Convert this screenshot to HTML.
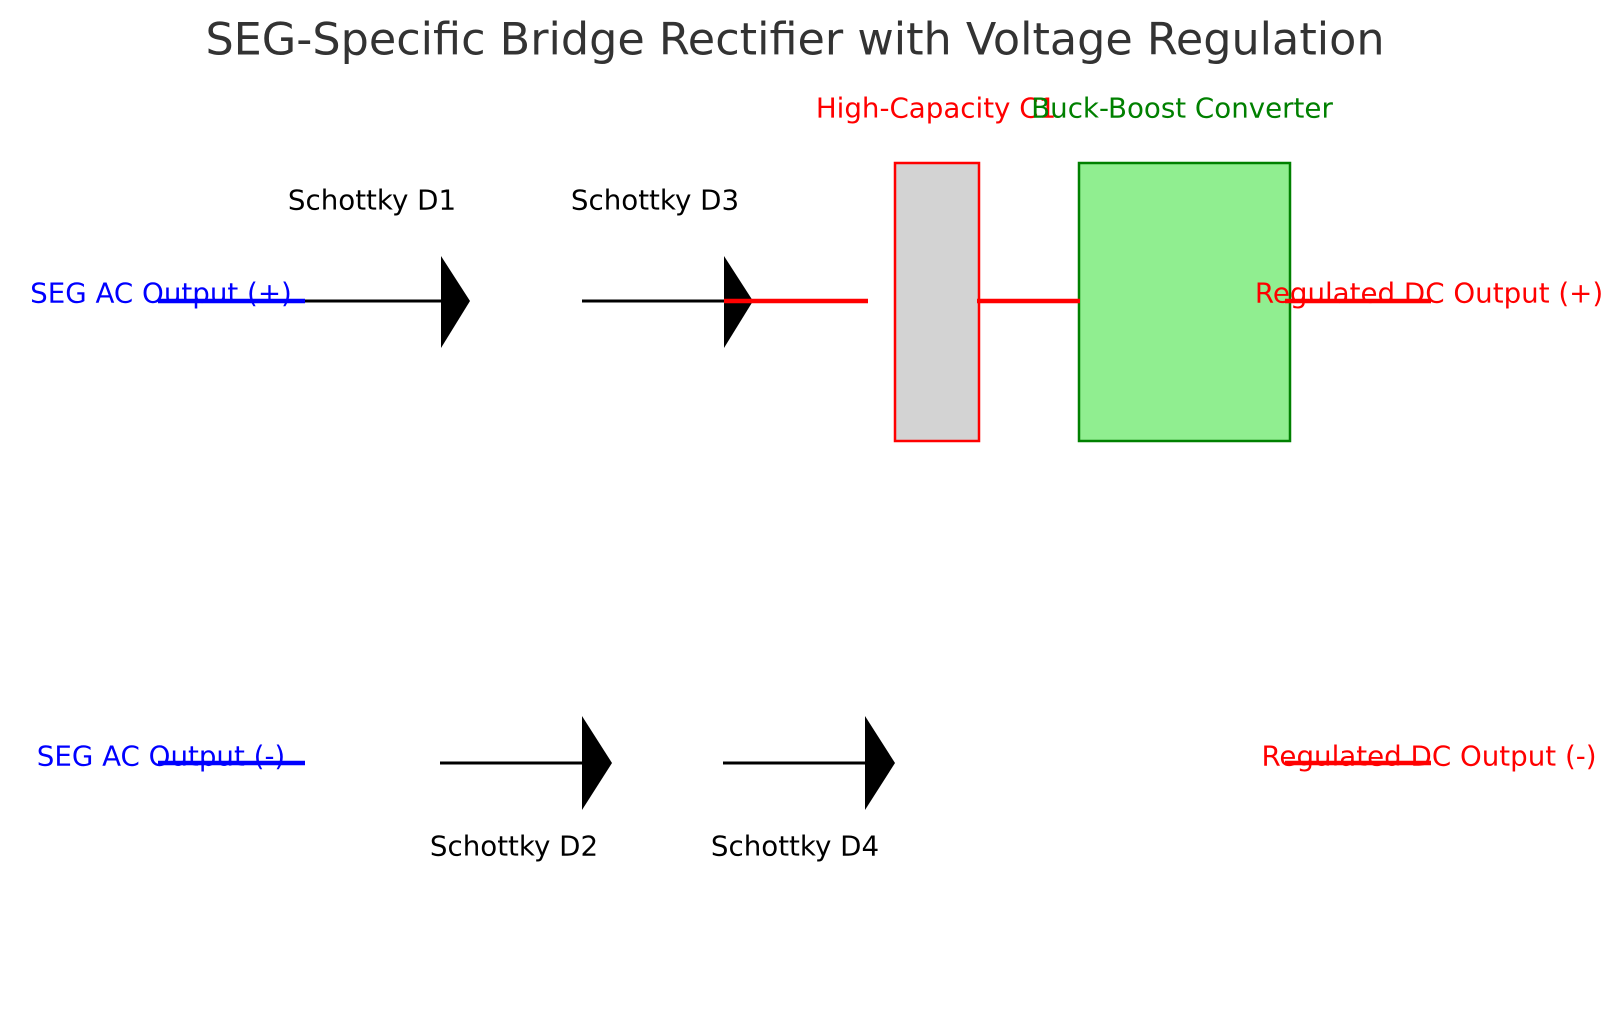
<!DOCTYPE html>
<html><head><meta charset="utf-8"><style>html,body{margin:0;padding:0;background:#fff}svg{display:block}</style></head>
<body>
<svg width="1623" height="1014" viewBox="0 0 1623 1014" xmlns="http://www.w3.org/2000/svg" font-family="DejaVu Sans, Liberation Sans, sans-serif">
<text x="795" y="40" font-size="44.5" fill="#333" text-anchor="middle" dominant-baseline="central">SEG-Specific Bridge Rectifier with Voltage Regulation</text>
<g transform="translate(-4,0)">
<rect x="899" y="163" width="84" height="278" fill="#d3d3d3" stroke="red" stroke-width="2.5"/>
<rect x="1083" y="163" width="211" height="278" fill="#90ee90" stroke="green" stroke-width="2.5"/>
<line x1="306" y1="301" x2="445" y2="301" stroke="#000" stroke-width="3"/>
<polygon points="445,256 474,301 445,348" fill="#000"/>
<line x1="586" y1="301" x2="728" y2="301" stroke="#000" stroke-width="3"/>
<polygon points="728,256 757,301 728,348" fill="#000"/>
<line x1="728" y1="301" x2="872" y2="301" stroke="red" stroke-width="4.5"/>
<line x1="981" y1="301" x2="1084" y2="301" stroke="red" stroke-width="4.5"/>
<line x1="162" y1="301" x2="309" y2="301" stroke="blue" stroke-width="4.5"/>
<line x1="1289" y1="301" x2="1435" y2="301" stroke="red" stroke-width="4.5"/>
<line x1="444" y1="763" x2="588" y2="763" stroke="#000" stroke-width="3"/>
<polygon points="586,716 616,763 586,810" fill="#000"/>
<line x1="727" y1="763" x2="870" y2="763" stroke="#000" stroke-width="3"/>
<polygon points="869,716 899,763 869,810" fill="#000"/>
<line x1="162" y1="763" x2="309" y2="763" stroke="blue" stroke-width="4.5"/>
<line x1="1289" y1="763" x2="1435" y2="763" stroke="red" stroke-width="4.5"/>
</g>
<text x="936" y="108" font-size="27.7" fill="red" text-anchor="middle" dominant-baseline="central">High-Capacity C1</text>
<text x="1182" y="108" font-size="27.7" fill="green" text-anchor="middle" dominant-baseline="central">Buck-Boost Converter</text>
<text x="161" y="293" font-size="27.7" fill="blue" text-anchor="middle" dominant-baseline="central">SEG AC Output (+)</text>
<text x="1429" y="293" font-size="27.7" fill="red" text-anchor="middle" dominant-baseline="central">Regulated DC Output (+)</text>
<text x="372" y="200" font-size="27.7" fill="#000" text-anchor="middle" dominant-baseline="central">Schottky D1</text>
<text x="655" y="200" font-size="27.7" fill="#000" text-anchor="middle" dominant-baseline="central">Schottky D3</text>
<text x="161" y="756" font-size="27.7" fill="blue" text-anchor="middle" dominant-baseline="central">SEG AC Output (-)</text>
<text x="1429" y="756" font-size="27.7" fill="red" text-anchor="middle" dominant-baseline="central">Regulated DC Output (-)</text>
<text x="514" y="846" font-size="27.7" fill="#000" text-anchor="middle" dominant-baseline="central">Schottky D2</text>
<text x="795" y="846" font-size="27.7" fill="#000" text-anchor="middle" dominant-baseline="central">Schottky D4</text>
</svg>
</body></html>
